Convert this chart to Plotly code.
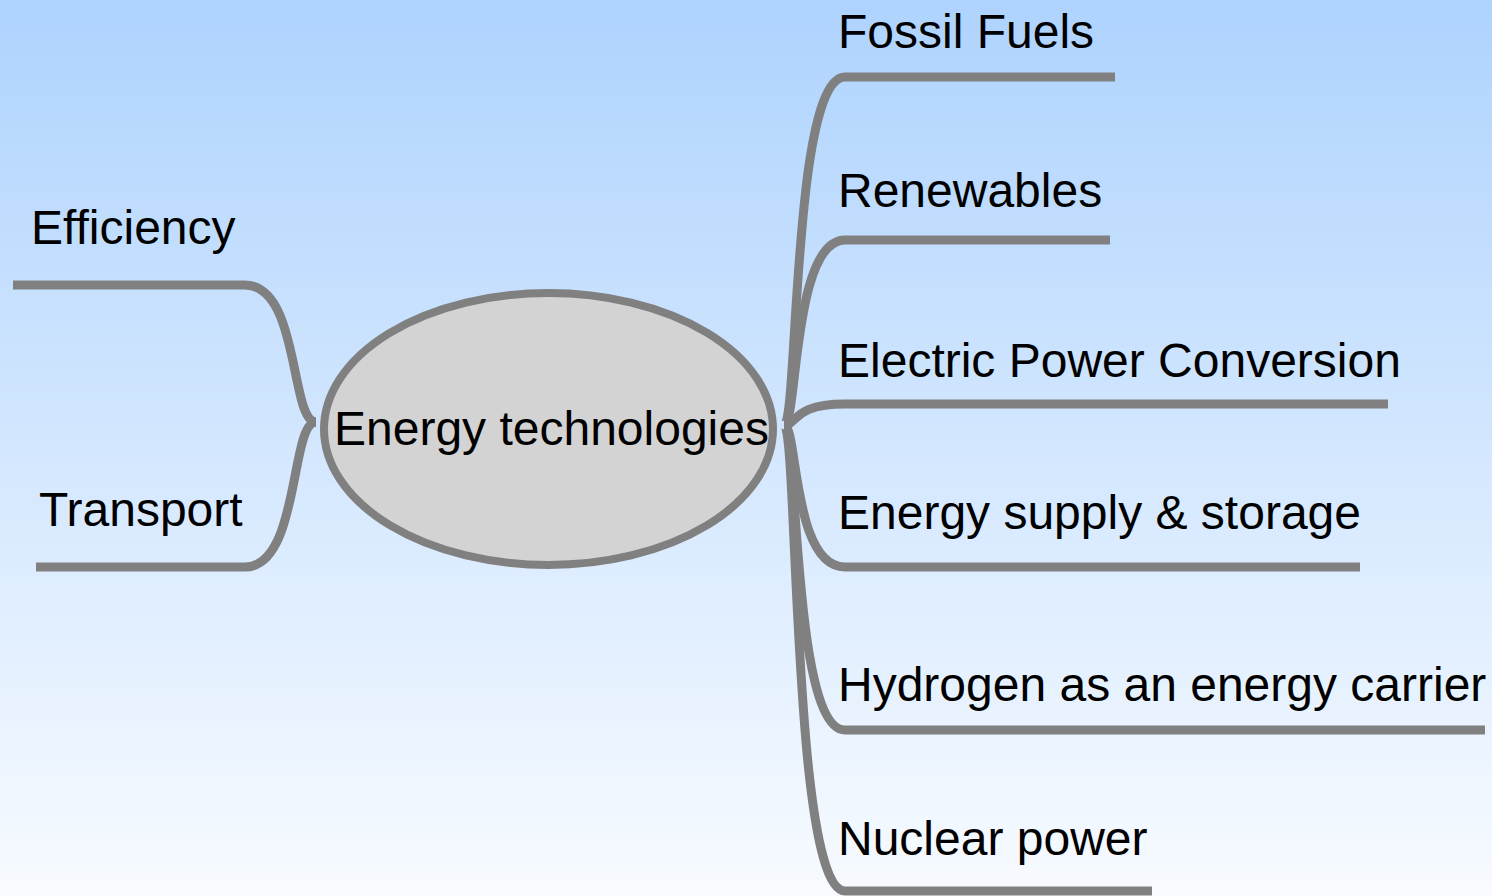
import numpy as np
import plotly.graph_objects as go

# ---- content ----
center_label = "Energy technologies"
right_labels = ["Fossil Fuels", "Renewables", "Electric Power Conversion",
                "Energy supply & storage", "Hydrogen as an energy carrier", "Nuclear power"]
left_labels = ["Efficiency", "Transport"]

# ---- layout (pixel space) ----
W, H = 1492, 896
ellipse_box = dict(x0=324, x1=773, y0=293, y1=565)
center_text_xy = (551, 428)

right_origin = (784, 425)
right_line_x0 = 845
right_line_y = [77, 240, 404, 567, 730, 891]
right_line_end = [1115, 1110, 1388, 1360, 1485, 1152]
right_label_x = 836
right_label_y = [31, 190, 360, 512, 684, 838]

left_origin = (316, 422)
left_line_x1 = 245
left_line_y = [285, 567]
left_line_start = [13, 36]
left_label_x = [29, 37]
left_label_y = [227, 509]

GRAY = "#808080"
FONT = "Liberation Sans, Arial, sans-serif"
TOP_COL, BOT_COL = "#AED3FE", "#F8FBFF"

fig = go.Figure()

# background gradient
rows = np.arange(0, H + 16, 16)
fig.add_trace(go.Heatmap(
    x=[0, W], y=rows, z=[[r, r] for r in rows],
    colorscale=[[0, TOP_COL], [1, BOT_COL]], zsmooth="best",
    showscale=False, hoverinfo="skip"))

shapes = []
# right branches
ox, oy = right_origin
for y, xe in zip(right_line_y, right_line_end):
    path = (f"M {ox},{oy} C {ox + 14},{oy} {ox + 8},{y} {right_line_x0},{y} "
            f"L {xe},{y}")
    shapes.append(dict(type="path", path=path, xref="x", yref="y",
                       line=dict(color=GRAY, width=9)))
# left branches
lx, ly = left_origin
for y, xs in zip(left_line_y, left_line_start):
    path = (f"M {xs},{y} L {left_line_x1},{y} "
            f"C {left_line_x1 + 55},{y} {lx - 26},{ly} {lx},{ly}")
    shapes.append(dict(type="path", path=path, xref="x", yref="y",
                       line=dict(color=GRAY, width=9)))
# center ellipse
shapes.append(dict(type="circle", xref="x", yref="y", fillcolor="#D3D3D3",
                   line=dict(color=GRAY, width=8), **ellipse_box))

annotations = [dict(x=center_text_xy[0], y=center_text_xy[1], text=center_label,
                    showarrow=False, xanchor="center", yanchor="middle",
                    font=dict(family=FONT, size=48, color="black"))]
for lab, y in zip(right_labels, right_label_y):
    annotations.append(dict(x=right_label_x, y=y, text=lab, showarrow=False,
                            xanchor="left", yanchor="middle",
                            font=dict(family=FONT, size=48, color="black")))
for lab, x, y in zip(left_labels, left_label_x, left_label_y):
    annotations.append(dict(x=x, y=y, text=lab, showarrow=False,
                            xanchor="left", yanchor="middle",
                            font=dict(family=FONT, size=48, color="black")))

fig.update_layout(
    width=W, height=H, margin=dict(l=0, r=0, t=0, b=0),
    paper_bgcolor=BOT_COL, plot_bgcolor="rgba(0,0,0,0)",
    xaxis=dict(range=[0, W], visible=False, fixedrange=True),
    yaxis=dict(range=[H, 0], visible=False, fixedrange=True),
    shapes=shapes, annotations=annotations, showlegend=False)

fig.write_html("out.html", config={"displayModeBar": False},
               post_script="document.body.style.margin='0';"
                           "document.body.style.overflow='hidden';")
